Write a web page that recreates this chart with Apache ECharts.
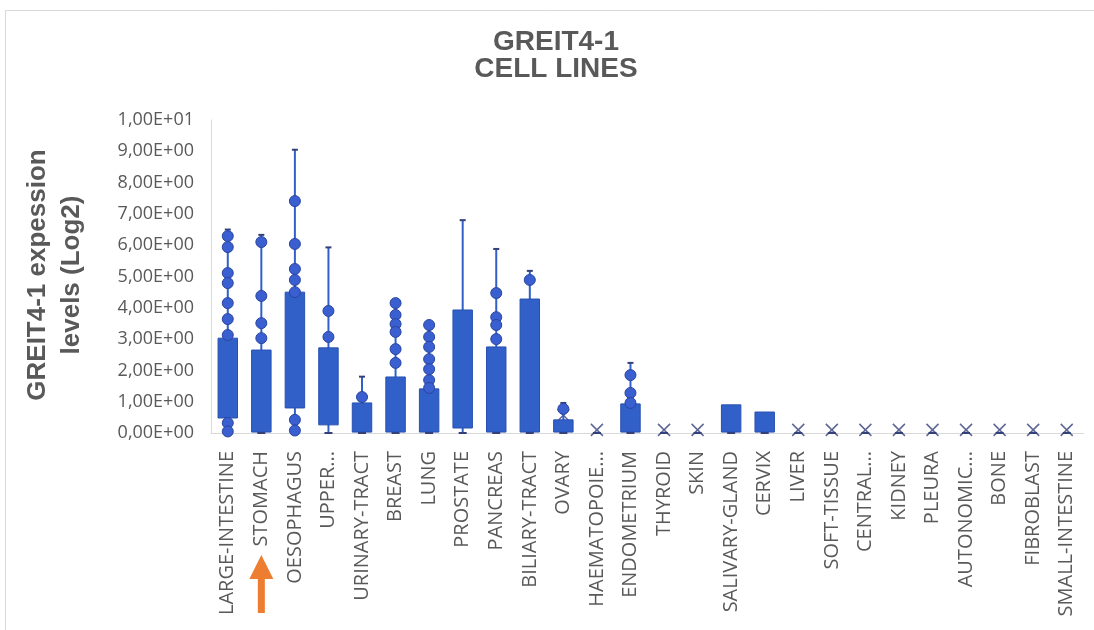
<!DOCTYPE html>
<html>
<head>
<meta charset="utf-8">
<script src="https://cdn.jsdelivr.net/npm/echarts@6/dist/echarts.min.js"></script>
<style>
  html, body { margin: 0; background: #fff; }
  #chart { width: 1094px; height: 630px; }
</style>
</head>
<body>
<div id="chart"></div>
<script>
// GREIT4-1 expression per tissue (cell lines) — box plot with inner points

const categories = [
  'LARGE-INTESTINE', 'STOMACH', 'OESOPHAGUS', 'UPPER...', 'URINARY-TRACT', 'BREAST',
  'LUNG', 'PROSTATE', 'PANCREAS', 'BILIARY-TRACT', 'OVARY', 'HAEMATOPOIE...',
  'ENDOMETRIUM', 'THYROID', 'SKIN', 'SALIVARY-GLAND', 'CERVIX', 'LIVER',
  'SOFT-TISSUE', 'CENTRAL...', 'KIDNEY', 'PLEURA', 'AUTONOMIC...', 'BONE',
  'FIBROBLAST', 'SMALL-INTESTINE'
]

const whiskerMin = [0, 0, 0, 0, 0, 0, 0, 0, 0, 0, 0, 0, 0, 0, 0, 0, 0, 0, 0, 0, 0, 0, 0, 0, 0, 0]
const boxLow = [0.48, 0.03, 0.8, 0.26, 0.03, 0.03, 0.03, 0.16, 0.03, 0.03, 0.03, 0, 0.03, 0, 0, 0.03, 0.03, 0, 0, 0, 0, 0, 0, 0, 0, 0]
const boxHigh = [3.03, 2.65, 4.5, 2.72, 0.96, 1.79, 1.41, 3.93, 2.75, 4.28, 0.42, 0, 0.93, 0, 0, 0.9, 0.67, 0, 0, 0, 0, 0, 0, 0, 0, 0]
const whiskerMax = [6.5, 6.33, 9.05, 5.93, 1.8, 4.15, 3.45, 6.8, 5.88, 5.18, 0.96, 0, 2.24, 0, 0, 0.9, 0.67, 0, 0, 0, 0, 0, 0, 0, 0, 0]
const meanValues = [2.0, 1.7, 2.9, 1.6, 0.6, 1.3, 1.0, 2.2, 1.8, 2.5, 0.57, 0.1, 0.6, 0.1, 0.1, 0.45, 0.34, 0.1, 0.1, 0.1, 0.1, 0.1, 0.1, 0.1, 0.1, 0.1]
const innerPoints = [
  [6.29, 5.94, 5.11, 4.79, 4.15, 3.64, 3.13, 0.32, 0.05],
  [6.1, 4.38, 3.51, 3.03],
  [7.41, 6.04, 5.24, 4.89, 4.5, 0.42, 0.08],
  [3.9, 3.07],
  [1.15],
  [4.15, 3.77, 3.48, 3.23, 2.68, 2.24],
  [3.45, 3.07, 2.75, 2.36, 2.04, 1.69, 1.44],
  [],
  [4.47, 3.7, 3.45, 3.0],
  [4.89],
  [0.77],
  [],
  [1.85, 1.28, 0.96],
  [], [], [], [], [], [], [], [], [], [], [], [], []
]
const yTickLabels = [
  '0,00E+00', '1,00E+00', '2,00E+00', '3,00E+00', '4,00E+00', '5,00E+00',
  '6,00E+00', '7,00E+00', '8,00E+00', '9,00E+00', '1,00E+01'
]

const BLUE = '#3060c8'
const EDGE = '#2850b0'
const CAP = '#34407a'
const TEXT = '#595959'

const boxData = categories.map((c, i) => [i, whiskerMin[i], boxLow[i], boxHigh[i], whiskerMax[i]])
const pointData = []
innerPoints.forEach((vals, i) => vals.forEach(v => pointData.push([i, v])))
const meanData = meanValues.map((v, i) => [i, v])

function renderBox(params, api) {
  const i = api.value(0)
  const x = api.coord([i, 0])[0]
  const half = api.size([1, 0])[0] * 0.29
  const yMin = api.coord([i, api.value(1)])[1]
  const yLow = api.coord([i, api.value(2)])[1]
  const yHigh = api.coord([i, api.value(3)])[1]
  const yMax = api.coord([i, api.value(4)])[1]
  const children = []
  if (yMin - yMax > 0) {
    children.push({ type: 'line', shape: { x1: x, y1: yMax, x2: x, y2: yMin }, style: { stroke: BLUE, lineWidth: 2 } })
  }
  if (yLow - yHigh > 0) {
    children.push({ type: 'rect', shape: { x: x - half, y: yHigh, width: half * 2, height: yLow - yHigh }, style: { fill: BLUE, stroke: EDGE, lineWidth: 1 } })
  }
  if (yHigh - yMax > 1) {
    children.push({ type: 'line', shape: { x1: x - 3, y1: yMax, x2: x + 3, y2: yMax }, style: { stroke: CAP, lineWidth: 2 } })
  }
  children.push({ type: 'line', shape: { x1: x - 4, y1: yMin, x2: x + 4, y2: yMin }, style: { stroke: CAP, lineWidth: 2 } })
  return { type: 'group', children }
}

const chart = echarts.init(document.getElementById('chart'))
chart.setOption({
  animation: false,
  backgroundColor: '#fff',
  grid: { left: 211, right: 10.5, top: 120, bottom: 197 },
  xAxis: {
    type: 'category',
    data: categories,
    axisLine: { lineStyle: { color: '#d9d9d9', width: 1 } },
    axisTick: { show: false },
    axisLabel: {
      interval: 0, rotate: 90, margin: 18,
      fontFamily: 'Open Sans', fontSize: 20, color: TEXT
    }
  },
  yAxis: {
    type: 'value',
    min: 0, max: 10, interval: 1,
    axisLine: { show: true, lineStyle: { color: '#d9d9d9', width: 1 } },
    axisTick: { show: false },
    splitLine: { show: false },
    axisLabel: {
      margin: 17, fontFamily: 'Open Sans', fontSize: 18, color: TEXT,
      formatter: (v) => yTickLabels[Math.round(v)]
    }
  },
  series: [
    {
      type: 'scatter', name: 'mean', z: 1,
      data: meanData,
      symbol: 'path://M0,0L10,10M10,0L0,10',
      symbolSize: 12,
      itemStyle: { color: 'none', borderColor: CAP, borderWidth: 1.5 }
    },
    {
      type: 'custom', name: 'box', z: 2,
      renderItem: renderBox,
      data: boxData
    },
    {
      type: 'scatter', name: 'points', z: 3,
      data: pointData,
      symbolSize: 11,
      itemStyle: { color: '#3a5fd0', borderColor: '#2a45a0', borderWidth: 1, opacity: 1 }
    }
  ]
})

// decorations: frame, title, axis name, arrow under STOMACH
const ax = chart.convertToPixel({ xAxisIndex: 0 }, 1)
chart.setOption({
  graphic: [
    { type: 'rect', shape: { x: 5.5, y: 10.5, width: 1100, height: 630 }, style: { fill: 'none', stroke: '#d9d9d9', lineWidth: 1 } },
    {
      type: 'text', x: 556, y: 56,
      style: {
        text: 'GREIT4-1\nCELL LINES', font: 'bold 28px "Liberation Sans", Arial, sans-serif',
        fill: TEXT, textAlign: 'center', textVerticalAlign: 'middle', lineHeight: 27
      }
    },
    {
      type: 'text', x: 55, y: 275, rotation: Math.PI / 2,
      style: {
        text: 'GREIT4-1 expession\nlevels (Log2)', font: 'bold 26px "Liberation Sans", Arial, sans-serif',
        fill: TEXT, textAlign: 'center', textVerticalAlign: 'middle', lineHeight: 34
      }
    },
    {
      type: 'polygon',
      shape: { points: [[ax, 555], [ax + 12, 579], [ax + 3.5, 579], [ax + 3.5, 613], [ax - 3.5, 613], [ax - 3.5, 579], [ax - 12, 579]] },
      style: { fill: '#ED7D31' }
    }
  ]
})
</script>
</body>
</html>
